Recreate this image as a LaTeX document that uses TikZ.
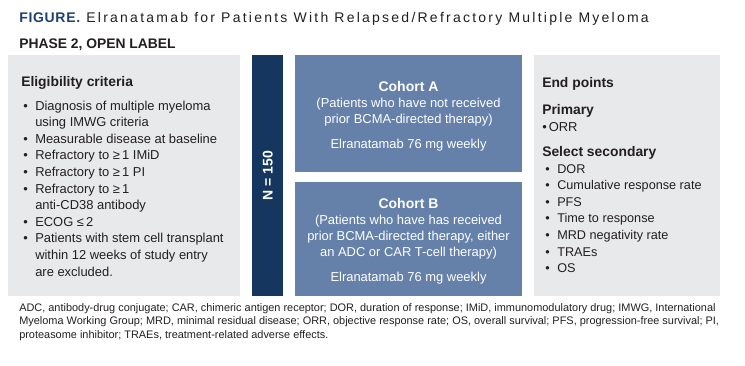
\documentclass[tikz,border=0pt]{standalone}
\usepackage{fontspec}
\setmainfont{Liberation Sans}
\usepackage{tikz}
\definecolor{FigBlue}{HTML}{1F4170}
\definecolor{BarNavy}{HTML}{15375F}
\definecolor{CohortBlue}{HTML}{6581A9}
\definecolor{PanelGray}{HTML}{E8E9EB}
\definecolor{TextBlack}{HTML}{231F20}
\tikzstyle{panel} = [fill=PanelGray, inner sep=0pt, anchor=north west]
\tikzstyle{cohort} = [fill=CohortBlue, inner sep=0pt, anchor=north west, minimum width=170.25pt]
\tikzstyle{txt} = [inner sep=0pt, anchor=base west, text=TextBlack, font=\fontsize{9.7}{12.45}\selectfont]
\tikzstyle{head} = [txt, font=\bfseries\fontsize{10.4}{12}\selectfont]
\tikzstyle{cohorttxt} = [inner sep=0pt, anchor=base, text=white, font=\fontsize{9.7}{12}\selectfont]
\newcommand{\blt}{\makebox[9pt][l]{\textbullet}}
\newcommand{\ind}{\hspace*{9pt}}

\begin{document}
\begin{tikzpicture}[x=0.75pt, y=-0.75pt]
  \useasboundingbox (0,0) rectangle (745,365);

  % heading
  \node[txt, font=\fontsize{10.5}{12}\selectfont\addfontfeatures{LetterSpace=16}] (title) at (19,22.3)
    {\textcolor{FigBlue}{\bfseries\addfontfeatures{LetterSpace=5}FIGURE.} Elranatamab for Patients With Relapsed/Refractory Multiple Myeloma};
  \node[head] (phase) at (19,48.3) {PHASE 2, OPEN LABEL};

  % panels
  \node[panel, minimum width=174pt, minimum height=180.75pt] (elig) at (8,55) {};
  \node[panel, fill=BarNavy, minimum width=23.25pt, minimum height=180.75pt] (bar) at (252,55) {};
  \node[cohort, minimum height=87.75pt] (cohA) at (295,55) {};
  \node[cohort, minimum height=85.5pt] (cohB) at (295,182) {};
  \node[panel, minimum width=139.5pt, minimum height=180.75pt] (ends) at (534,55) {};

  \node[rotate=90, inner sep=0pt, text=white, font=\bfseries\fontsize{10.5}{12}\selectfont] (n) at (bar.center) {N = 150};

  % eligibility
  \node[head] (eligHead) at (21,86.5) {Eligibility criteria};
  \node[txt] (eligList) at (23,110) {\begin{tabular}[t]{@{}l@{}}
    \blt Diagnosis of multiple myeloma\\
    \ind using IMWG criteria\\
    \blt Measurable disease at baseline\\
    \blt Refractory to ≥\,1 IMiD\\
    \blt Refractory to ≥\,1 PI\\
    \blt Refractory to ≥\,1\\
    \ind anti-CD38 antibody\\
    \blt ECOG ≤\,2\\
    \blt Patients with stem cell transplant\\
    \ind within 12 weeks of study entry\\
    \ind are excluded.
  \end{tabular}};

  % cohorts
  \node[cohorttxt] (cohAText) at (408.5,91.5) {\begin{tabular}[t]{@{}c@{}}
    {\bfseries\fontsize{10.5}{12}\selectfont Cohort A}\\
    (Patients who have not received\\
    prior BCMA-directed therapy)\\[6.5pt]
    Elranatamab 76 mg weekly
  \end{tabular}};
  \node[cohorttxt] (cohBText) at (408.5,208.5) {\begin{tabular}[t]{@{}c@{}}
    {\bfseries\fontsize{10.5}{12}\selectfont Cohort B}\\
    (Patients who have has received\\
    prior BCMA-directed therapy, either\\
    an ADC or CAR T-cell therapy)\\[6.5pt]
    Elranatamab 76 mg weekly
  \end{tabular}};

  % end points
  \node[head] (endHead) at (542,87.5) {End points};
  \node[head] (primHead) at (542,114.5) {Primary};
  \node[txt] (primList) at (542,131) {\textbullet\hspace{1.5pt}ORR};
  \node[head] (secHead) at (542,156.5) {Select secondary};
  \node[txt, font=\fontsize{9.5}{12.45}\selectfont] (secList) at (545,173) {\begin{tabular}[t]{@{}l@{}}
    \blt DOR\\
    \blt Cumulative response rate\\
    \blt PFS\\
    \blt Time to response\\
    \blt MRD negativity rate\\
    \blt TRAEs\\
    \blt OS
  \end{tabular}};

  % abbreviations
  \node[txt, font=\fontsize{8.2}{10.1}\selectfont] (notes) at (19,311.5) {\begin{tabular}[t]{@{}l@{}}
    ADC, antibody-drug conjugate; CAR, chimeric antigen receptor; DOR, duration of response; IMiD, immunomodulatory drug; IMWG, International\\
    Myeloma Working Group; MRD, minimal residual disease; ORR, objective response rate; OS, overall survival; PFS, progression-free survival; PI,\\
    proteasome inhibitor; TRAEs, treatment-related adverse effects.
  \end{tabular}};
\end{tikzpicture}
\end{document}
